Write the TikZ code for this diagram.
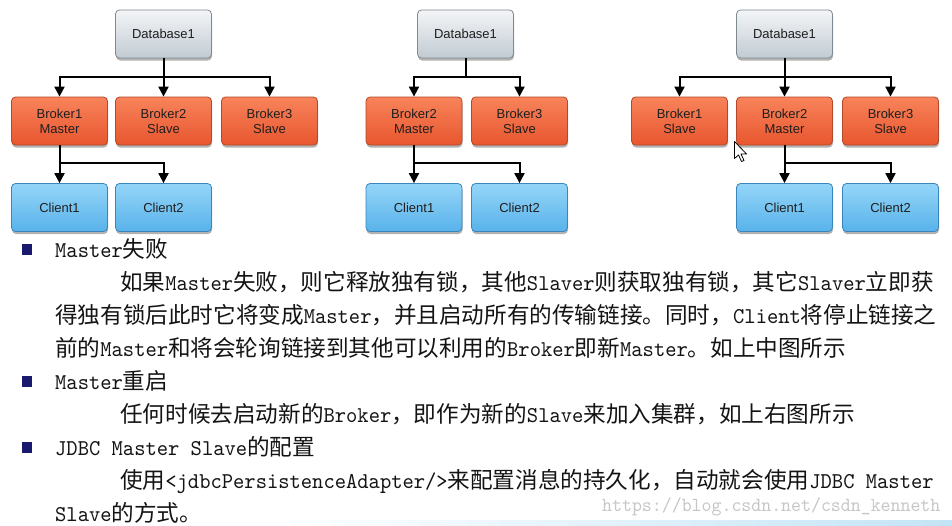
\documentclass[tikz,border=0pt]{standalone}
\usepackage{fontspec}
\setmainfont{Liberation Sans}
\newfontfamily\cjk{Noto Sans CJK SC}
\newfontfamily\lat[Extension=.otf, FakeStretch=0.952]{lmmono10-regular}
\usetikzlibrary{arrows.meta,shadows}

\definecolor{dbT}{HTML}{F3F5F7}
\definecolor{dbB}{HTML}{C2CBD2}
\definecolor{dbE}{HTML}{7E8990}
\definecolor{brT}{HTML}{F8835A}
\definecolor{brB}{HTML}{E8562F}
\definecolor{brE}{HTML}{B4492A}
\definecolor{clT}{HTML}{94D5F8}
\definecolor{clB}{HTML}{58B2EA}
\definecolor{clE}{HTML}{3A86BC}
\definecolor{navy}{RGB}{25,25,110}
\definecolor{band}{RGB}{195,228,246}

\tikzset{
  box/.style={draw, rounded corners=4pt, line width=0.8pt, minimum width=96pt,
    minimum height=48pt, align=center, inner sep=0pt, text=black!88,
    font=\fontsize{13}{15}\selectfont,
    drop shadow={shadow xshift=0.5pt, shadow yshift=-2.5pt, opacity=0.3, fill=black}},
  dbbox/.style={box, draw=dbE, top color=dbT, bottom color=dbB},
  brbox/.style={box, draw=brE, top color=brT, bottom color=brB},
  clbox/.style={box, draw=clE, top color=clT, bottom color=clB},
  arr/.style={line width=2pt, -{Triangle[length=10pt,width=10pt]}},
  txt/.style={anchor=base west, inner sep=0pt, text=black!92,
    font=\fontsize{22.6}{22.6}\selectfont},
  bul/.style={fill=navy}
}

\begin{document}
\begin{tikzpicture}[x=1pt,y=-1pt]
\useasboundingbox (0,0) rectangle (952,525);
\fill[white] (0,0) rectangle (952,525);
\shade[left color=white, right color=band] (280,520) rectangle (952,525);

% ---------- diagram 1 ----------
\node[dbbox] (db1) at (163.5,34) {Database1};
\node[brbox] (b11) at (59.5,121) {Broker1\\Master};
\node[brbox] (b12) at (163.5,121) {Broker2\\Slave};
\node[brbox] (b13) at (269.5,121) {Broker3\\Slave};
\node[clbox] (c11) at (59.5,207.5) {Client1};
\node[clbox] (c12) at (163.5,207.5) {Client2};
\draw[arr] (db1.south) -- ++(0,19) -| (b11.north);
\draw[arr] (db1.south) -- ++(0,19) -| (b12.north);
\draw[arr] (db1.south) -- ++(0,19) -| (b13.north);
\draw[arr] (b11.south) -- ++(0,18) -| (c11.north);
\draw[arr] (b11.south) -- ++(0,18) -| (c12.north);

% ---------- diagram 2 ----------
\node[dbbox] (db2) at (465.5,34) {Database1};
\node[brbox] (b22) at (414,121) {Broker2\\Master};
\node[brbox] (b23) at (519.5,121) {Broker3\\Slave};
\node[clbox] (c21) at (414,207.5) {Client1};
\node[clbox] (c22) at (519.5,207.5) {Client2};
\draw[arr] (db2.south) -- ++(0,19) -| (b22.north);
\draw[arr] (db2.south) -- ++(0,19) -| (b23.north);
\draw[arr] (b22.south) -- ++(0,18) -| (c21.north);
\draw[arr] (b22.south) -- ++(0,18) -| (c22.north);

% ---------- diagram 3 ----------
\node[dbbox] (db3) at (784.5,34) {Database1};
\node[brbox] (b31) at (679.5,121) {Broker1\\Slave};
\node[brbox] (b32) at (784.5,121) {Broker2\\Master};
\node[brbox] (b33) at (890.5,121) {Broker3\\Slave};
\node[clbox] (c31) at (784.5,207.5) {Client1};
\node[clbox] (c32) at (890.5,207.5) {Client2};
\draw[arr] (db3.south) -- ++(0,19) -| (b31.north);
\draw[arr] (db3.south) -- ++(0,19) -| (b32.north);
\draw[arr] (db3.south) -- ++(0,19) -| (b33.north);
\draw[arr] (b32.south) -- ++(0,18) -| (c31.north);
\draw[arr] (b32.south) -- ++(0,18) -| (c32.north);

% mouse cursor
\draw[fill=white, line width=0.8pt, line join=round]
  (734.5,141.5) -- ++(0,17) -- ++(4,-3.5) -- ++(3,6.5) -- ++(2.5,-1) -- ++(-3,-6.5) -- ++(5.5,0) -- cycle;

% ---------- text ----------
\fill[bul] (21.5,244) rectangle (31.5,255);
\fill[bul] (21.5,376) rectangle (31.5,387);
\fill[bul] (21.5,442) rectangle (31.5,453);

\node[txt] (h1) at (55,257.6) {\lat Master\cjk 失败};
\node[txt] (l1) at (120,290.6) {\cjk 如果\lat Master\cjk 失败，则它释放独有锁，其他\lat Slaver\cjk 则获取独有锁，其它\lat Slaver\cjk 立即获};
\node[txt] (l2) at (55,323.6) {\cjk 得独有锁后此时它将变成\lat Master\cjk ，并且启动所有的传输链接。同时，\lat Client\cjk 将停止链接之};
\node[txt] (l3) at (55,356.6) {\cjk 前的\lat Master\cjk 和将会轮询链接到其他可以利用的\lat Broker\cjk 即新\lat Master\cjk 。如上中图所示};
\node[txt] (h2) at (55,389.6) {\lat Master\cjk 重启};
\node[txt] (l4) at (120,422.6) {\cjk 任何时候去启动新的\lat Broker\cjk ，即作为新的\lat Slave\cjk 来加入集群，如上右图所示};
\node[txt] (h3) at (55,455.6) {\lat JDBC Master Slave\cjk 的配置};
\node[txt] (l5) at (120,488.6) {\cjk 使用\lat <jdbcPersistenceAdapter/>\cjk 来配置消息的持久化，自动就会使用\lat JDBC Master};
\node[txt] (l6) at (55,521.6) {\lat Slave\cjk 的方式。};

\node[anchor=base west, inner sep=0pt, text=black!22, font=\lat\fontsize{19.9}{19.9}\selectfont]
  (wm) at (602,511) {https://blog.csdn.net/csdn\_kenneth};
\end{tikzpicture}
\end{document}
